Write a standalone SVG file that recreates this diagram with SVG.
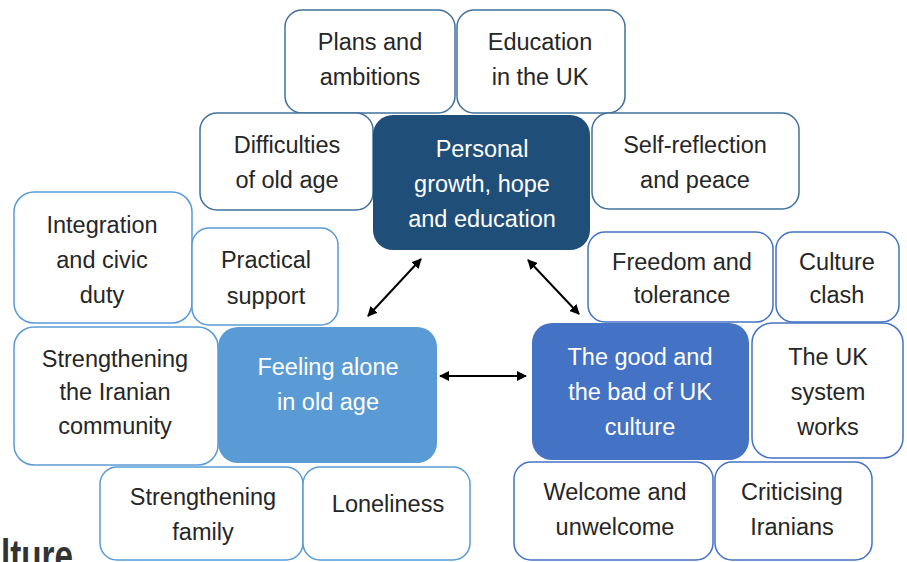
<svg xmlns="http://www.w3.org/2000/svg" width="907" height="562" viewBox="0 0 907 562">
  <defs>
    <style>
      text { font-family: "Liberation Sans", Arial, sans-serif; font-size: 23.5px; fill: #262626; text-anchor: middle; }
      .light { fill: #ffffff; }
      .box { fill: #ffffff; stroke-width: 1.5; }
      .top { stroke: #41719c; }
      .left { stroke: #5b9bd5; }
      .right { stroke: #4472c4; }
      .hub1 { fill: #1f4e79; }
      .hub2 { fill: #5b9bd5; }
      .hub3 { fill: #4472c4; }
      .conn { stroke: #000000; stroke-width: 2; fill: none; marker-start: url(#head); marker-end: url(#head); }
    </style>
    <marker id="head" viewBox="0 0 10 10" refX="9" refY="5" markerWidth="5" markerHeight="5" orient="auto-start-reverse" markerUnits="strokeWidth">
      <path d="M0,0 L10,5 L0,10 z" fill="#000000"/>
    </marker>
  </defs>

  <rect width="907" height="562" fill="#ffffff"/>

  <!-- Cluster: personal growth -->
  <g id="plans">
    <rect class="box top" x="285" y="10" width="170" height="103" rx="17"/>
    <text x="370" y="50">Plans and</text>
    <text x="370" y="85">ambitions</text>
  </g>
  <g id="education">
    <rect class="box top" x="457" y="10" width="168" height="103" rx="17"/>
    <text x="540" y="50">Education</text>
    <text x="540" y="85">in the UK</text>
  </g>
  <g id="difficulties">
    <rect class="box top" x="200" y="113" width="173" height="97" rx="17"/>
    <text x="287" y="153">Difficulties</text>
    <text x="287" y="188">of old age</text>
  </g>
  <g id="self-reflection">
    <rect class="box top" x="592" y="113" width="207" height="96" rx="17"/>
    <text x="695" y="153">Self-reflection</text>
    <text x="695" y="188">and peace</text>
  </g>
  <g id="personal-growth">
    <rect class="hub1" x="373" y="115" width="217" height="135" rx="20"/>
    <text class="light" x="482" y="157">Personal</text>
    <text class="light" x="482" y="192">growth, hope</text>
    <text class="light" x="482" y="227">and education</text>
  </g>

  <!-- Cluster: feeling alone -->
  <g id="integration">
    <rect class="box left" x="14" y="192" width="178" height="131" rx="20"/>
    <text x="102" y="233">Integration</text>
    <text x="102" y="268">and civic</text>
    <text x="102" y="303">duty</text>
  </g>
  <g id="practical-support">
    <rect class="box left" x="192" y="228" width="146" height="97" rx="17"/>
    <text x="266" y="268">Practical</text>
    <text x="266" y="304">support</text>
  </g>
  <g id="iranian-community">
    <rect class="box left" x="14" y="327" width="204" height="138" rx="20"/>
    <text x="115" y="367">Strengthening</text>
    <text x="115" y="400">the Iranian</text>
    <text x="115" y="434">community</text>
  </g>
  <g id="feeling-alone">
    <rect class="hub2" x="218" y="327" width="219" height="136" rx="20"/>
    <text class="light" x="328" y="375">Feeling alone</text>
    <text class="light" x="328" y="410">in old age</text>
  </g>
  <g id="family">
    <rect class="box left" x="100" y="467" width="203" height="93" rx="17"/>
    <text x="203" y="505">Strengthening</text>
    <text x="203" y="540">family</text>
  </g>
  <g id="loneliness">
    <rect class="box left" x="303" y="467" width="167" height="93" rx="17"/>
    <text x="388" y="512">Loneliness</text>
  </g>

  <!-- Cluster: UK culture -->
  <g id="freedom">
    <rect class="box right" x="588" y="232" width="185" height="90" rx="17"/>
    <text x="682" y="270">Freedom and</text>
    <text x="682" y="303">tolerance</text>
  </g>
  <g id="culture-clash">
    <rect class="box right" x="776" y="232" width="123" height="90" rx="17"/>
    <text x="837" y="270">Culture</text>
    <text x="837" y="303">clash</text>
  </g>
  <g id="good-and-bad">
    <rect class="hub3" x="532" y="323" width="217" height="137" rx="20"/>
    <text class="light" x="640" y="365">The good and</text>
    <text class="light" x="640" y="400">the bad of UK</text>
    <text class="light" x="640" y="435">culture</text>
  </g>
  <g id="uk-system">
    <rect class="box right" x="752" y="323" width="151" height="135" rx="20"/>
    <text x="828" y="365">The UK</text>
    <text x="828" y="400">system</text>
    <text x="828" y="435">works</text>
  </g>
  <g id="welcome">
    <rect class="box right" x="514" y="462" width="199" height="98" rx="17"/>
    <text x="615" y="500">Welcome and</text>
    <text x="615" y="535">unwelcome</text>
  </g>
  <g id="criticising">
    <rect class="box right" x="715" y="462" width="157" height="98" rx="17"/>
    <text x="792" y="500">Criticising</text>
    <text x="792" y="535">Iranians</text>
  </g>

  <!-- Links between the three themes -->
  <g id="connectors">
    <line class="conn" x1="368" y1="316" x2="421" y2="259"/>
    <line class="conn" x1="528" y1="260" x2="579" y2="314"/>
    <line class="conn" x1="440" y1="376" x2="526" y2="376"/>
  </g>

  <!-- Heading fragment at the lower edge -->
  <text x="1" y="572" style="font-size:46px;font-weight:bold;text-anchor:start;fill:#333333" textLength="72" lengthAdjust="spacingAndGlyphs">lture</text>
</svg>
